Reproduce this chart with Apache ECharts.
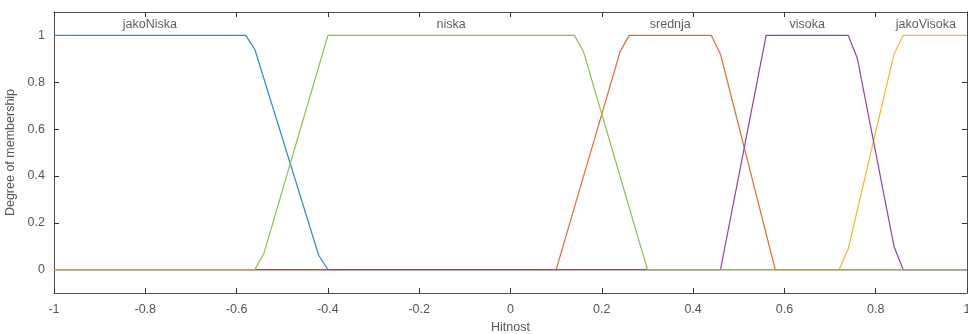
<!DOCTYPE html>
<html>
<head>
<meta charset="utf-8">
<script src="https://cdn.jsdelivr.net/npm/echarts@6/dist/echarts.min.js"></script>
<style>
  html, body { margin: 0; padding: 0; background: #fff; }
  #chart { width: 968px; height: 334px; }
</style>
</head>
<body>
<div id="chart"></div>
<script>
// membership function vertices [x, degree]
const jakoNiska = [[-1, 1], [-0.58, 1], [-0.56, 0.94], [-0.42, 0.06], [-0.4, 0], [1, 0]];
const srednja = [[-1, 0], [0.1, 0], [0.24, 0.93], [0.26, 1], [0.44, 1], [0.46, 0.92], [0.58, 0], [1, 0]];
const jakoVisoka = [[-1, 0], [0.72, 0], [0.74, 0.09], [0.84, 0.92], [0.86, 1], [1, 1]];
const visoka = [[-1, 0], [0.46, 0], [0.56, 1], [0.74, 1], [0.76, 0.9], [0.84, 0.1], [0.86, 0], [1, 0]];
const niska = [[-1, 0], [-0.56, 0], [-0.54, 0.07], [-0.4, 1], [0.14, 1], [0.16, 0.93], [0.3, 0], [1, 0]];

const mfNames = ['jakoNiska', 'srednja', 'jakoVisoka', 'visoka', 'niska'];
const mfData = [jakoNiska, srednja, jakoVisoka, visoka, niska];
const mfColors = ['#2a8ad4', '#ea6330', '#f2b632', '#8f42a3', '#88c046'];

// label positions (centre of each plateau)
const labelPos = [
  ['jakoNiska', -0.79], ['niska', -0.13], ['srednja', 0.35], ['visoka', 0.65], ['jakoVisoka', 0.91]
];

const xTicks = [-1, -0.8, -0.6, -0.4, -0.2, 0, 0.2, 0.4, 0.6, 0.8, 1];
const yTicks = [0, 0.2, 0.4, 0.6, 0.8, 1];

const chart = echarts.init(document.getElementById('chart'));

const axisColor = '#4d4d4d';
const labelColor = '#555';
const font = 'Liberation Sans, Arial, sans-serif';

const series = mfData.map((d, i) => ({
  name: mfNames[i],
  type: 'line',
  data: d,
  symbol: 'none',
  animation: false,
  lineStyle: { color: mfColors[i], width: 1.2 },
  z: 2 + i,
}));

series.push({
  name: 'labels',
  type: 'scatter',
  data: labelPos.map(p => ({ value: [p[1], 1.045], name: p[0] })),
  symbolSize: 0,
  animation: false,
  silent: true,
  label: {
    show: true,
    position: 'inside',
    formatter: p => p.name,
    color: '#333',
    fontSize: 12.5,
    fontFamily: font,
  },
});

const option = {
  animation: false,
  backgroundColor: '#fff',
  grid: { left: 54, right: 1, top: 12, bottom: 41, outerBoundsMode: 'none', containLabel: false },
  xAxis: [
    {
      type: 'value',
      min: -1,
      max: 1,
      name: 'Hitnost',
      nameLocation: 'middle',
      nameGap: 27,
      nameTextStyle: { color: labelColor, fontSize: 12.5, fontFamily: font },
      axisLine: { onZero: false, lineStyle: { color: axisColor, width: 1 } },
      axisTick: { inside: true, length: 5, customValues: xTicks, lineStyle: { color: '#333' } },
      axisLabel: {
        customValues: xTicks,
        color: labelColor,
        fontSize: 12.5,
        margin: 10,
        fontFamily: font,
        formatter: v => String(v),
      },
      splitLine: { show: false },
    },
    {
      type: 'value',
      position: 'top',
      min: -1,
      max: 1,
      axisLine: { onZero: false, lineStyle: { color: axisColor, width: 1 } },
      axisTick: { inside: true, length: 5, customValues: xTicks, lineStyle: { color: '#333' } },
      axisLabel: { show: false },
      splitLine: { show: false },
    },
  ],
  yAxis: [
    {
      type: 'value',
      min: -0.1,
      max: 1.1,
      name: 'Degree of membership',
      nameLocation: 'middle',
      nameGap: 31,
      nameTextStyle: { color: labelColor, fontSize: 12.5, fontFamily: font },
      axisLine: { show: true, onZero: false, lineStyle: { color: axisColor, width: 1 } },
      axisTick: { show: true, inside: true, length: 5, customValues: yTicks, lineStyle: { color: '#333' } },
      axisLabel: {
        customValues: yTicks,
        color: labelColor,
        fontSize: 12.5,
        margin: 9,
        fontFamily: font,
        formatter: v => String(v),
      },
      splitLine: { show: false },
    },
    {
      type: 'value',
      position: 'right',
      min: -0.1,
      max: 1.1,
      axisLine: { show: true, onZero: false, lineStyle: { color: axisColor, width: 1 } },
      axisTick: { show: true, inside: true, length: 5, customValues: yTicks, lineStyle: { color: '#333' } },
      axisLabel: { show: false },
      splitLine: { show: false },
    },
  ],
  series: series,
};

chart.setOption(option);
</script>
</body>
</html>
